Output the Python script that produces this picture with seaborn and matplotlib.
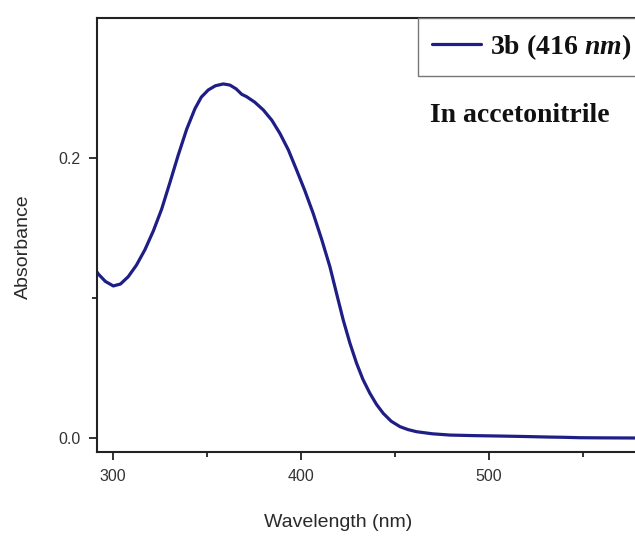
import matplotlib
matplotlib.use("Agg")
import matplotlib.pyplot as plt
import seaborn as sns
import pandas as pd

# Data
wavelength = [291.5, 292.2, 296.0, 300.2, 304.0, 308.1, 312.5, 317.0, 321.5, 325.9, 330.3,
              334.7, 339.2, 343.6, 347.0, 350.7, 354.5, 358.7, 362.2, 365.5, 368.5, 371.1,
              375.5, 380.0, 384.5, 388.8, 393.3, 397.7, 402.1, 406.5, 411.0, 415.4, 419.0,
              422.5, 426.0, 429.6, 433.0, 436.7, 440.2, 443.8, 448.0, 452.7, 457.0, 461.5,
              470.0, 479.3, 492.0, 505.9, 518.0, 530.9, 540.0, 548.4, 560.0, 577.7]
absorbance = [0.1186, 0.1171, 0.1118, 0.1086, 0.1100, 0.1152, 0.1235, 0.1345, 0.1480, 0.1635, 0.1825,
              0.2020, 0.2205, 0.2352, 0.2435, 0.2486, 0.2516, 0.2529, 0.2521, 0.2494, 0.2455, 0.2438,
              0.2398, 0.2343, 0.2270, 0.2176, 0.2058, 0.1914, 0.1766, 0.1605, 0.1420, 0.1224, 0.1030,
              0.0843, 0.0680, 0.0534, 0.0418, 0.0319, 0.0240, 0.0176, 0.0120, 0.0081, 0.0060, 0.0045,
              0.0030, 0.0021, 0.0017, 0.0014, 0.0011, 0.0007, 0.0005, 0.0002, 0.0001, 0.0000]
series_label = "3b (416 $nm$)"
annotation = "In accetonitrile"
x_ticks = [300, 400, 500]
y_ticks = [0.0, 0.2]

df = pd.DataFrame({"Wavelength (nm)": wavelength, "Absorbance": absorbance})

sns.set_theme(style="white")
plt.rcParams["font.family"] = ["Liberation Sans", "DejaVu Sans"]
plt.rcParams["mathtext.fontset"] = "custom"
plt.rcParams["mathtext.it"] = "Liberation Serif:italic:bold"
plt.rcParams["mathtext.rm"] = "Liberation Serif:bold"

W, H = 635, 538
fig = plt.figure(figsize=(W / 100, H / 100), dpi=100)
left, right, top, bottom = 97, 637, 18, 452
ax = fig.add_axes([left / W, 1 - bottom / H, (right - left) / W, (bottom - top) / H])

line_color = "#1e1e86"
sns.lineplot(data=df, x="Wavelength (nm)", y="Absorbance", ax=ax, color=line_color,
             linewidth=2.3, label=series_label, sort=False)

ax.set_xlim(291.5, 578.8)
ax.set_ylim(-0.01, 0.30)
ax.set_xticks(x_ticks)
ax.set_xticks([350, 450, 550], minor=True)
ax.set_yticks(y_ticks)
ax.set_yticks([0.1], minor=True)
ax.set_xticklabels([str(t) for t in x_ticks])
ax.set_yticklabels(["0.0", "0.2"])

spine_color = "#222222"
for s in ["left", "bottom", "top"]:
    ax.spines[s].set_visible(True)
    ax.spines[s].set_color(spine_color)
    ax.spines[s].set_linewidth(1.5)
ax.spines["right"].set_visible(False)

ax.tick_params(axis="both", which="major", direction="out", length=6, width=1.3,
               color=spine_color, labelsize=11.5, labelcolor="#333333", pad=6,
               bottom=True, left=True)
ax.tick_params(axis="both", which="minor", direction="out", length=3.5, width=1.3,
               color=spine_color, bottom=True, left=True)

ax.set_xlabel("Wavelength (nm)", fontsize=14, color="#2a2a2a")
ax.set_ylabel("Absorbance", fontsize=14, color="#2a2a2a")
ax.xaxis.set_label_coords((338 - left) / (right - left), -(514 - bottom) / (bottom - top), transform=ax.transAxes)
ax.yaxis.set_label_coords(-(97 - 32) / (right - left), (bottom - 247) / (bottom - top), transform=ax.transAxes)

leg = ax.legend(loc="upper left", bbox_to_anchor=((418 - left) / (right - left), 1.0),
                borderaxespad=0, frameon=True, fancybox=False, framealpha=1,
                edgecolor="#777777", handlelength=1.75, handletextpad=0.33,
                borderpad=0.5,
                prop={"family": "Liberation Serif", "weight": "bold", "size": 20})
leg.get_frame().set_linewidth(1.0)
for t in leg.get_texts():
    t.set_color("#111111")

fig.text(430 / W, 1 - 116 / H, annotation, fontsize=20, fontweight="bold",
         family="Liberation Serif", color="#111111", va="center", ha="left")

fig.savefig("out.png", dpi=100)
